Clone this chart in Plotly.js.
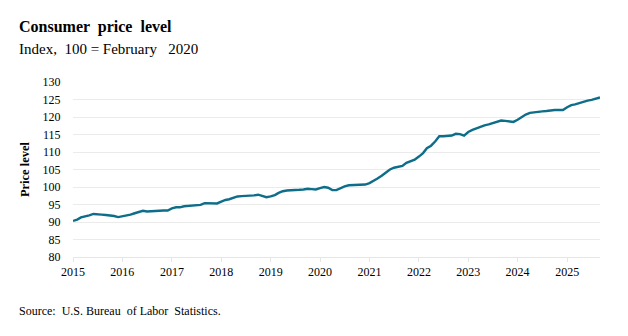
<!DOCTYPE html>
<html>
<head>
<meta charset="utf-8">
<script src="https://cdn.plot.ly/plotly-3.0.1.min.js"></script>
<style>html,body{margin:0;padding:0;background:#fff;}#chart{width:628px;height:336px;}</style>
</head>
<body>
<div id="chart"></div>
<script>
// Monthly index values (100 = February 2020), January 2015 through September 2025
const startYear = 2015;
const values2015 = [90.3, 90.7, 91.3, 91.5, 91.9, 92.3, 92.3, 92.1, 92.0, 91.9, 91.7, 91.4];
const values2016 = [91.6, 91.7, 92.1, 92.5, 92.9, 93.2, 93.0, 93.1, 93.3, 93.4, 93.3, 93.3];
const values2017 = [93.9, 94.2, 94.2, 94.5, 94.6, 94.7, 94.6, 94.9, 95.4, 95.4, 95.4, 95.3];
const values2018 = [95.8, 96.3, 96.5, 96.9, 97.3, 97.4, 97.4, 97.5, 97.6, 97.8, 97.4, 97.1];
const values2019 = [97.3, 97.7, 98.3, 98.8, 99.0, 99.0, 99.2, 99.2, 99.3, 99.5, 99.4, 99.3];
const values2020 = [99.7, 100.0, 99.8, 99.1, 99.1, 99.7, 100.2, 100.5, 100.6, 100.7, 100.6, 100.7];
const values2021 = [101.1, 101.7, 102.4, 103.2, 104.1, 105.0, 105.5, 105.8, 106.0, 106.9, 107.4, 107.8];
const values2022 = [108.7, 109.7, 111.1, 111.8, 113.0, 114.5, 114.5, 114.5, 114.7, 115.2, 115.1, 114.7];
const values2023 = [115.7, 116.3, 116.7, 117.3, 117.6, 117.9, 118.2, 118.7, 119.0, 118.9, 118.7, 118.6];
const values2024 = [119.2, 120.0, 120.7, 121.2, 121.4, 121.5, 121.6, 121.7, 121.9, 122.0, 122.0, 122.0];
const values2025 = [122.8, 123.4, 123.6, 124.0, 124.3, 124.7, 124.9, 125.2, 125.6];

const yearTickLabels = ["2015","2016","2017","2018","2019","2020","2021","2022","2023","2024","2025"];
const yTickValues = [80, 85, 90, 95, 100, 105, 110, 115, 120, 125, 130];

const allYears = [values2015, values2016, values2017, values2018, values2019, values2020,
                  values2021, values2022, values2023, values2024, values2025];
const dates = [];
const vals = [];
allYears.forEach((arr, yi) => {
  arr.forEach((v, mi) => {
    const mm = String(mi + 1).padStart(2, "0");
    dates.push((startYear + yi) + "-" + mm + "-01");
    vals.push(v);
  });
});

const serif = "Liberation Serif, Times New Roman, serif";

const trace = {
  x: dates, y: vals, type: "scatter", mode: "lines",
  line: {color: "#0e6e8a", width: 2.4, shape: "linear"},
  hoverinfo: "skip"
};

const layout = {
  width: 628, height: 336,
  margin: {l: 73, r: 28, t: 82, b: 79},
  paper_bgcolor: "#ffffff", plot_bgcolor: "#ffffff",
  showlegend: false,
  font: {family: serif, size: 12, color: "#000"},
  xaxis: {
    type: "date",
    range: ["2015-01-01", "2025-09-01"],
    tickvals: yearTickLabels.map(y => y + "-01-01"),
    ticktext: yearTickLabels,
    showgrid: false,
    showline: true, linecolor: "#e6e6e6", linewidth: 1,
    ticks: "outside", ticklen: 4, tickcolor: "#e6e6e6",
    tickfont: {family: serif, size: 12, color: "#000"},
    zeroline: false, fixedrange: true
  },
  yaxis: {
    range: [80, 130],
    tickvals: yTickValues,
    showgrid: true, gridcolor: "#ebebeb", gridwidth: 1,
    showline: false, zeroline: false,
    ticks: "outside", ticklen: 9, tickcolor: "rgba(0,0,0,0)",
    tickfont: {family: serif, size: 12, color: "#000"},
    title: {text: "<b>Price level</b>", font: {family: serif, size: 12.5, color: "#000"}, standoff: 10},
    fixedrange: true
  },
  annotations: [
    {text: "<b>Consumer  price  level</b>", xref: "paper", yref: "paper",
     x: (17 - 73) / 527, y: (336 - 79 - 27) / 175, xanchor: "left", yanchor: "middle",
     showarrow: false, font: {family: serif, size: 16, color: "#000"}},
    {text: "Index,  100 = February   2020", xref: "paper", yref: "paper",
     x: (17 - 73) / 527, y: (336 - 79 - 49) / 175, xanchor: "left", yanchor: "middle",
     showarrow: false, font: {family: serif, size: 15, color: "#000"}},
    {text: "Source:  U.S. Bureau  of Labor  Statistics.", xref: "paper", yref: "paper",
     x: (17 - 73) / 527, y: (336 - 79 - 311) / 175, xanchor: "left", yanchor: "middle",
     showarrow: false, font: {family: serif, size: 12, color: "#000"}}
  ]
};

Plotly.newPlot("chart", [trace], layout, {displayModeBar: false, staticPlot: true});
</script>
</body>
</html>
